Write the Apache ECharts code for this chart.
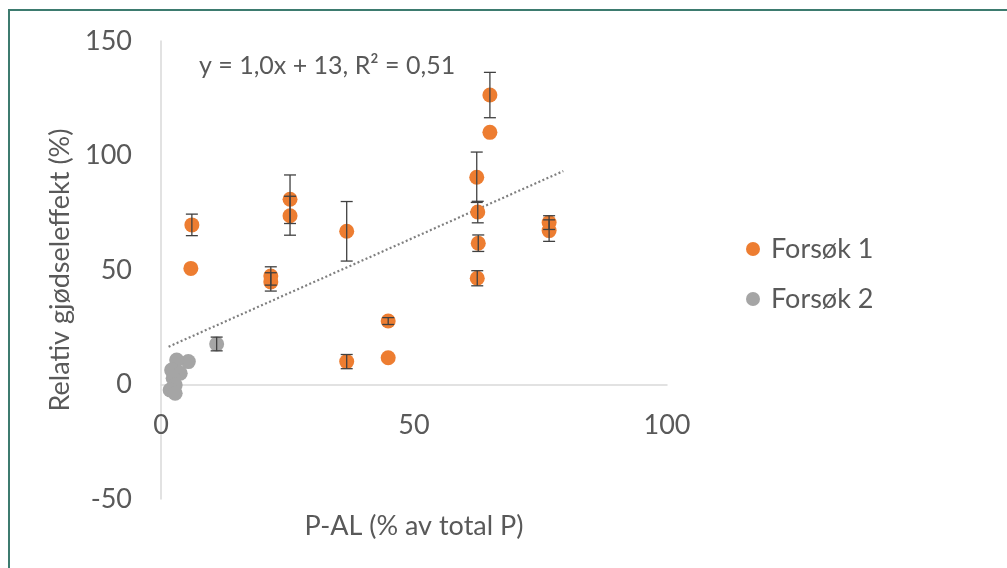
<!DOCTYPE html>
<html>
<head>
<meta charset="utf-8">
<script src="https://cdn.jsdelivr.net/npm/echarts@6/dist/echarts.min.js"></script>
<style>
  html, body { margin: 0; padding: 0; background: #fff; overflow: hidden; }
  #frame {
    position: absolute; left: 8px; top: 9px;
    width: 1010px; height: 570px;
    border-left: 2px solid #3d7b6f; border-top: 2px solid #3d7b6f;
  }
  #chart { position: absolute; left: -10px; top: -11px; width: 1007px; height: 568px; }
</style>
</head>
<body>
<div id="frame"><div id="chart"></div></div>
<script>
// Forsøk 1 (orange)
const f1X = [65.0, 65.0, 62.4, 62.6, 25.5, 25.5, 6.1, 5.9, 36.7, 76.7, 76.7, 21.7, 21.7, 36.7, 44.9, 44.9, 62.7, 62.5]
const f1Y = [126.4, 110.1, 90.5, 75.3, 80.9, 73.7, 69.7, 50.7, 66.9, 70.7, 67.2, 47.4, 44.8, 10.0, 27.7, 11.7, 61.7, 46.4]
const f1Err = [9.9, 0, 11, 4.7, 10.6, 8.5, 4.7, 0, 13, 3, 4.7, 4, 4, 3.1, 1.5, 0, 3.6, 3.3]

// Forsøk 2 (grey)
const f2X = [11.0, 5.4, 3.1, 2.1, 3.8, 2.4, 2.8, 1.8, 2.8]
const f2Y = [17.7, 10.0, 10.7, 6.3, 4.9, 2.7, -0.2, -2.4, -3.8]
const f2Err = [3, 0, 0, 0, 0, 0, 0, 0, 0]

// trendline end points
const trendX = [1.5, 79.5]
const trendY = [16.5, 93.2]

const xTicks = [0, 50, 100]
const yTicks = [-50, 0, 50, 100, 150]
const equation = 'y = 1,0x + 13, R² = 0,51'

const FONT = 'Lato'
const TXT = '#595959'

function pairs (xs, ys) {
  return xs.map((x, i) => [x, ys[i]])
}

function errData (xs, ys, es) {
  return xs.map((x, i) => [x, ys[i] - es[i], ys[i] + es[i]]).filter((d, i) => es[i] > 0)
}

function renderErr (params, api) {
  const lo = api.coord([api.value(0), api.value(1)])
  const hi = api.coord([api.value(0), api.value(2)])
  const w = 6
  const style = { stroke: '#404040', lineWidth: 1.3 }
  return {
    type: 'group',
    children: [
      { type: 'line', shape: { x1: lo[0], y1: lo[1], x2: hi[0], y2: hi[1] }, style },
      { type: 'line', shape: { x1: lo[0] - w, y1: lo[1], x2: lo[0] + w, y2: lo[1] }, style },
      { type: 'line', shape: { x1: hi[0] - w, y1: hi[1], x2: hi[0] + w, y2: hi[1] }, style }
    ]
  }
}

const myChart = echarts.init(document.getElementById('chart'))

myChart.setOption({
  animation: false,
  textStyle: { fontFamily: FONT },
  grid: { left: 161, right: 340, top: 41, bottom: 69, outerBoundsMode: 'none', containLabel: false },
  legend: {
    orient: 'vertical',
    left: 741,
    top: 229,
    icon: 'circle',
    itemWidth: 14,
    itemHeight: 14,
    itemGap: 20,
    data: ['Forsøk 1', 'Forsøk 2'],
    textStyle: { fontFamily: FONT, fontSize: 27, color: TXT, lineHeight: 30, padding: [0, 0, 0, 6] }
  },
  xAxis: {
    type: 'value',
    min: xTicks[0],
    max: xTicks[xTicks.length - 1],
    interval: 50,
    name: 'P-AL (% av total P)',
    nameLocation: 'middle',
    nameGap: 128,
    nameTextStyle: { fontFamily: FONT, fontSize: 27, color: TXT },
    axisLine: { onZero: false, lineStyle: { color: '#d9d9d9', width: 1.5 } },
    axisTick: { show: false },
    splitLine: { show: false },
    axisLabel: { margin: 27, fontSize: 27, color: TXT, fontFamily: FONT }
  },
  yAxis: {
    type: 'value',
    min: yTicks[0],
    max: yTicks[yTicks.length - 1],
    interval: 50,
    name: 'Relativ gjødseleffekt (%)',
    nameLocation: 'middle',
    nameGap: 86,
    nameTextStyle: { fontFamily: FONT, fontSize: 27, color: TXT },
    axisLine: { show: true, onZero: false, lineStyle: { color: '#d9d9d9', width: 1.5 } },
    axisTick: { show: false },
    splitLine: { show: false },
    axisLabel: { margin: 29, fontSize: 27, color: TXT, fontFamily: FONT }
  },
  graphic: [{
    type: 'text',
    left: 199,
    top: 53,
    style: { text: equation, fontFamily: FONT, fontSize: 25, fill: TXT }
  }],
  series: [
    {
      name: 'trend',
      type: 'line',
      data: pairs(trendX, trendY),
      symbol: 'none',
      silent: true,
      z: 1,
      lineStyle: { color: '#7f7f7f', width: 2.2, type: [2, 2.4] }
    },
    {
      name: 'Forsøk 1',
      type: 'scatter',
      data: pairs(f1X, f1Y),
      symbolSize: 15,
      itemStyle: { color: '#ed7d31', opacity: 1 },
      z: 3
    },
    {
      name: 'Forsøk 2',
      type: 'scatter',
      data: pairs(f2X, f2Y),
      symbolSize: 15,
      itemStyle: { color: '#a5a5a5', opacity: 1 },
      z: 3
    },
    {
      name: 'err1',
      type: 'custom',
      data: errData(f1X, f1Y, f1Err),
      renderItem: renderErr,
      silent: true,
      z: 4
    },
    {
      name: 'err2',
      type: 'custom',
      data: errData(f2X, f2Y, f2Err),
      renderItem: renderErr,
      silent: true,
      z: 4
    }
  ]
})

// move the x axis (line, labels, name) up to where y = 0, like Excel does
const yZero = myChart.convertToPixel({ yAxisIndex: 0 }, 0)
const yMin = myChart.convertToPixel({ yAxisIndex: 0 }, yTicks[0])
myChart.setOption({ xAxis: { offset: yZero - yMin } })
</script>
</body>
</html>
